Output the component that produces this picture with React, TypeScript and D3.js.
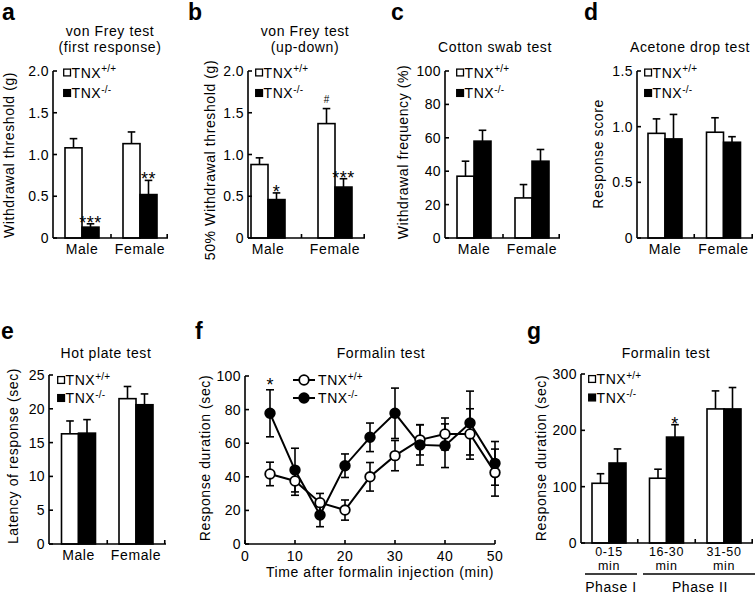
import React from 'react';
import * as d3 from 'd3';

// ---------- data ----------
const sexes = ['Male', 'Female'];

// a: von Frey (first response)
const aWT = [1.08, 1.13];
const aWTsem = [0.11, 0.14];
const aKO = [0.13, 0.52];
const aKOsem = [0.04, 0.17];
const aWTmarks = ['', ''];
const aKOmarks = ['***', '**'];

// b: von Frey (up-down)
const bWT = [0.88, 1.37];
const bWTsem = [0.08, 0.18];
const bKO = [0.46, 0.61];
const bKOsem = [0.08, 0.1];
const bWTmarks = ['', '#'];
const bKOmarks = ['*', '***'];

// c: cotton swab
const cWT = [37, 24];
const cWTsem = [9, 8];
const cKO = [58, 46];
const cKOsem = [6.5, 7];

// d: acetone drop
const dWT = [0.94, 0.95];
const dWTsem = [0.13, 0.13];
const dKO = [0.89, 0.86];
const dKOsem = [0.22, 0.05];

// e: hot plate
const eWT = [16.3, 21.5];
const eWTsem = [1.9, 1.8];
const eKO = [16.4, 20.6];
const eKOsem = [2.0, 1.6];

// f: formalin time course
const fTimes = [5, 10, 15, 20, 25, 30, 35, 40, 45, 50];
const fWT = [41.7, 37.5, 24.6, 20.2, 40, 52.6, 62, 65.5, 65.5, 42.5];
const fWTsem = [7, 8.5, 5.5, 6, 8.5, 9, 9, 9.5, 15, 14];
const fKO = [77.8, 44, 17.3, 46.6, 63.5, 77.8, 59, 58.5, 72, 48];
const fKOsem = [14, 13, 7, 7, 8.5, 15, 12, 13, 19, 13];
const fMarks = ['*', '', '', '', '', '', '', '', '', ''];

// g: formalin phases
const gCats = ['0-15', '16-30', '31-50'];
const gWT = [106, 115, 238];
const gWTsem = [17, 16, 32];
const gKO = [142, 188, 238];
const gKOsem = [25, 22, 38];
const gKOmarks = ['', '*', ''];

const ticksA = [0, 0.5, 1.0, 1.5, 2.0];
const ticksC = [0, 20, 40, 60, 80, 100];
const ticksD = [0, 0.5, 1.0, 1.5];
const ticksE = [0, 5, 10, 15, 20, 25];
const ticksF = [0, 20, 40, 60, 80, 100];
const ticksFx = [0, 10, 20, 30, 40, 50];
const ticksG = [0, 100, 200, 300];

// ---------- style ----------
const FONT = '"Liberation Sans", Arial, Helvetica, sans-serif';
const FS = 14;
const LS = 0.6;
const SW = 1.6;

function Legend({ x, y1, y2, line }: any) {
  const row = (y: number, filled: boolean, sup: string) => (
    <g>
      {line ? (
        <g>
          <line x1={x} x2={x + 22} y1={y} y2={y} stroke="#000" strokeWidth={2} />
          <circle cx={x + 11} cy={y} r={4.8} fill={filled ? '#000' : '#fff'} stroke="#000" strokeWidth={1.8} />
        </g>
      ) : (
        <rect x={x + 0.7} y={y - 3.4} width={6.8} height={6.8} fill={filled ? '#000' : '#fff'} stroke="#000" strokeWidth={1.3} />
      )}
      <text x={x + (line ? 25 : 8.5)} y={y + 5} fontSize={FS} letterSpacing={LS} fontFamily={FONT}>
        TNX
        <tspan fontSize={10} dy={-5.5} letterSpacing={0.2}>{sup}</tspan>
      </text>
    </g>
  );
  return (
    <g>
      {row(y1, false, '+/+')}
      {row(y2, true, '-/-')}
    </g>
  );
}

function YAxis({ y, ticks, fmt, ax }: any) {
  return (
    <g>
      <line x1={ax} x2={ax} y1={y(ticks[ticks.length - 1])} y2={y(0)} stroke="#000" strokeWidth={SW} />
      {ticks.map((t: number) => (
        <g key={t}>
          <line x1={ax} x2={ax + 4} y1={y(t)} y2={y(t)} stroke="#000" strokeWidth={SW} />
          <text x={ax - 4} y={y(t) + 5} textAnchor="end" fontSize={FS} letterSpacing={0.4} fontFamily={FONT}>
            {fmt(t)}
          </text>
        </g>
      ))}
    </g>
  );
}

function BarPanel(p: any) {
  const y = d3.scaleLinear().domain([0, p.yMax]).range([p.yBottom, p.yTop]);
  const xb = d3.scaleBand().domain(p.cats).range([p.bandStart, p.bandEnd]).padding(0);
  const inner = d3.scaleBand().domain(['wt', 'ko']).range([-17, 17]).padding(0);
  const series = [
    { key: 'wt', vals: p.wt, sem: p.wtSem, fill: '#fff', marks: p.wtMarks },
    { key: 'ko', vals: p.ko, sem: p.koSem, fill: '#000', marks: p.koMarks },
  ];
  const dividers = p.cats.map((c: string) => (xb(c) as number) + xb.bandwidth());
  return (
    <g>
      <text x={p.letter[0]} y={p.letter[1]} fontSize={23} fontWeight="bold" fontFamily={FONT}>{p.letter[2]}</text>
      {p.title.map((t: string, i: number) => (
        <text key={i} x={p.titleX} y={p.titleY + i * 16} textAnchor="middle" fontSize={FS} letterSpacing={LS} fontFamily={FONT}>{t}</text>
      ))}
      <text transform={`translate(${p.ylabX},${p.ylabY}) rotate(-90)`} textAnchor="middle" fontSize={FS} letterSpacing={LS} fontFamily={FONT}>
        {p.ylab}
      </text>
      {series.map((s) =>
        p.cats.map((c: string, i: number) => {
          const x0 = (xb(c) as number) + xb.bandwidth() / 2 + (inner(s.key) as number);
          const w = inner.bandwidth();
          const cx = x0 + w / 2;
          const top = y(s.vals[i]);
          const et = y(s.vals[i] + s.sem[i]);
          const mk = s.marks ? s.marks[i] : '';
          return (
            <g key={s.key + c}>
              <line x1={cx} x2={cx} y1={top} y2={et} stroke="#000" strokeWidth={SW} />
              <line x1={cx - 3.8} x2={cx + 3.8} y1={et} y2={et} stroke="#000" strokeWidth={SW} />
              <rect x={x0} y={top} width={w} height={y(0) - top} fill={s.fill} stroke="#000" strokeWidth={SW} />
              {mk === '#' ? (
                <text x={cx} y={et - 6} textAnchor="middle" fontSize={10} fontFamily={FONT}>#</text>
              ) : mk ? (
                <text x={cx} y={et + 5} textAnchor="middle" fontSize={18} letterSpacing={0.5} fontFamily={FONT}>{mk}</text>
              ) : null}
            </g>
          );
        })
      )}
      <line x1={p.axisX} x2={p.axisEnd} y1={y(0)} y2={y(0)} stroke="#000" strokeWidth={SW} />
      {dividers.map((d: number, i: number) => (
        <line key={i} x1={Math.min(d, p.axisEnd - 0.8)} x2={Math.min(d, p.axisEnd - 0.8)} y1={y(0)} y2={y(0) - 4} stroke="#000" strokeWidth={SW} />
      ))}
      <YAxis y={y} ticks={p.ticks} fmt={p.fmt} ax={p.axisX} />
      {p.cats.map((c: string) => {
        const cx = (xb(c) as number) + xb.bandwidth() / 2;
        const lines = p.catLabels ? p.catLabels[c] : [c];
        return lines.map((l: string, j: number) => (
          <text key={c + j} x={cx} y={p.catY + j * 14} textAnchor="middle" fontSize={p.catLabels ? 12.5 : FS} letterSpacing={LS} fontFamily={FONT}>{l}</text>
        ));
      })}
      <Legend x={p.legX} y1={p.legY1} y2={p.legY2} />
    </g>
  );
}

function LinePanel() {
  const x = d3.scaleLinear().domain([0, 50]).range([245, 495]);
  const y = d3.scaleLinear().domain([0, 100]).range([544, 376]);
  const line = d3.line<number>().x((_, i) => x(fTimes[i])).y((v) => y(v));
  const series = [
    { vals: fWT, sem: fWTsem, fill: '#fff' },
    { vals: fKO, sem: fKOsem, fill: '#000' },
  ];
  return (
    <g>
      <text x={195} y={339} fontSize={23} fontWeight="bold" fontFamily={FONT}>f</text>
      <text x={381} y={358} textAnchor="middle" fontSize={FS} letterSpacing={LS} fontFamily={FONT}>Formalin test</text>
      <text transform={`translate(210,458) rotate(-90)`} textAnchor="middle" fontSize={FS} letterSpacing={LS} fontFamily={FONT}>
        Response duration (sec)
      </text>
      {series.map((s, k) => (
        <path key={k} d={line(s.vals) as string} fill="none" stroke="#000" strokeWidth={2} />
      ))}
      {series.map((s, k) =>
        s.vals.map((v, i) => {
          const cx = x(fTimes[i]);
          return (
            <g key={k + '-' + i}>
              <line x1={cx} x2={cx} y1={y(v - s.sem[i])} y2={y(v + s.sem[i])} stroke="#000" strokeWidth={SW} />
              <line x1={cx - 4} x2={cx + 4} y1={y(v - s.sem[i])} y2={y(v - s.sem[i])} stroke="#000" strokeWidth={SW} />
              <line x1={cx - 4} x2={cx + 4} y1={y(v + s.sem[i])} y2={y(v + s.sem[i])} stroke="#000" strokeWidth={SW} />
            </g>
          );
        })
      )}
      {series.map((s, k) =>
        s.vals.map((v, i) => (
          <circle key={'c' + k + i} cx={x(fTimes[i])} cy={y(v)} r={4.8} fill={s.fill} stroke="#000" strokeWidth={1.8} />
        ))
      )}
      {fMarks.map((m, i) =>
        m ? (
          <text key={'m' + i} x={x(fTimes[i])} y={y(fKO[i] + fKOsem[i]) + 1} textAnchor="middle" fontSize={18} fontFamily={FONT}>{m}</text>
        ) : null
      )}
      <line x1={245} x2={495} y1={y(0)} y2={y(0)} stroke="#000" strokeWidth={SW} />
      {ticksFx.map((t) => (
        <g key={t}>
          <line x1={x(t)} x2={x(t)} y1={y(0)} y2={y(0) - 4} stroke="#000" strokeWidth={SW} />
          <text x={x(t)} y={561} textAnchor="middle" fontSize={FS} letterSpacing={0.4} fontFamily={FONT}>{t}</text>
        </g>
      ))}
      <YAxis y={y} ticks={ticksF} fmt={(t: number) => String(t)} ax={245} />
      <text x={380} y={577} textAnchor="middle" fontSize={FS} letterSpacing={LS} fontFamily={FONT}>
        Time after formalin injection (min)
      </text>
      <Legend x={293} y1={380} y2={398} line />
    </g>
  );
}

const fmt1 = (t: number) => (t === 0 ? '0' : d3.format('.1f')(t));
const fmt0 = (t: number) => String(t);

export default function App() {
  const gLabels: any = { '0-15': ['0-15', 'min'], '16-30': ['16-30', 'min'], '31-50': ['31-50', 'min'] };
  return (
    <svg width={755} height={594} style={{ position: 'absolute', left: 0, top: 0, background: '#fff' }}>
      <rect width={755} height={594} fill="#fff" />
      <BarPanel
        letter={[2, 20, 'a']} title={['von Frey test', '(first response)']} titleX={110} titleY={36}
        ylab="Withdrawal threshold (g)" ylabX={14} ylabY={155}
        cats={sexes} wt={aWT} wtSem={aWTsem} ko={aKO} koSem={aKOsem} wtMarks={aWTmarks} koMarks={aKOmarks}
        yMax={2} ticks={ticksA} fmt={fmt1} yTop={71} yBottom={238}
        axisX={53} axisEnd={168} bandStart={53} bandEnd={169} catY={254}
        legX={63} legY1={72.5} legY2={93}
      />
      <BarPanel
        letter={[188, 20, 'b']} title={['von Frey test', '(up-down)']} titleX={305} titleY={36}
        ylab="50% Withdrawal threshold (g)" ylabX={215} ylabY={160}
        cats={sexes} wt={bWT} wtSem={bWTsem} ko={bKO} koSem={bKOsem} wtMarks={bWTmarks} koMarks={bKOmarks}
        yMax={2} ticks={ticksA} fmt={fmt1} yTop={71} yBottom={238}
        axisX={248} axisEnd={365} bandStart={234.5} bandEnd={368.5} catY={254}
        legX={255} legY1={72.5} legY2={93}
      />
      <BarPanel
        letter={[391, 20, 'c']} title={['Cotton swab test']} titleX={495} titleY={52}
        ylab="Withdrawal frequency (%)" ylabX={408} ylabY={152}
        cats={sexes} wt={cWT} wtSem={cWTsem} ko={cKO} koSem={cKOsem}
        yMax={100} ticks={ticksC} fmt={fmt0} yTop={71} yBottom={238}
        axisX={445} axisEnd={560} bandStart={445} bandEnd={561} catY={254}
        legX={456} legY1={72.5} legY2={93}
      />
      <BarPanel
        letter={[584, 20, 'd']} title={['Acetone drop test']} titleX={690} titleY={52}
        ylab="Response score" ylabX={603} ylabY={154}
        cats={sexes} wt={dWT} wtSem={dWTsem} ko={dKO} koSem={dKOsem}
        yMax={1.5} ticks={ticksD} fmt={fmt1} yTop={71} yBottom={238}
        axisX={637} axisEnd={753} bandStart={635.75} bandEnd={752.75} catY={254}
        legX={644} legY1={72.5} legY2={93}
      />
      <BarPanel
        letter={[1, 339, 'e']} title={['Hot plate test']} titleX={106} titleY={358}
        ylab="Latency of response (sec)" ylabX={18} ylabY={456}
        cats={sexes} wt={eWT} wtSem={eWTsem} ko={eKO} koSem={eKOsem}
        yMax={25} ticks={ticksE} fmt={fmt0} yTop={375} yBottom={544}
        axisX={49} axisEnd={166} bandStart={49.75} bandEnd={164.75} catY={560}
        legX={57} legY1={380} legY2={398}
      />
      <LinePanel />
      <BarPanel
        letter={[527, 339, 'g']} title={['Formalin test']} titleX={666} titleY={358}
        ylab="Response duration (sec)" ylabX={546} ylabY={458}
        cats={gCats} catLabels={gLabels} wt={gWT} wtSem={gWTsem} ko={gKO} koSem={gKOsem} koMarks={gKOmarks}
        yMax={300} ticks={ticksG} fmt={fmt0} yTop={374} yBottom={543}
        axisX={581} axisEnd={753} bandStart={580.25} bandEnd={752.75} catY={556}
        legX={588} legY1={379} legY2={397.5}
      />
      <line x1={585} x2={637} y1={574} y2={574} stroke="#000" strokeWidth={1.6} />
      <line x1={643} x2={755} y1={574} y2={574} stroke="#000" strokeWidth={1.6} />
      <text x={611} y={592} textAnchor="middle" fontSize={FS} letterSpacing={LS} fontFamily={FONT}>Phase I</text>
      <text x={700} y={592} textAnchor="middle" fontSize={FS} letterSpacing={LS} fontFamily={FONT}>Phase II</text>
    </svg>
  );
}
